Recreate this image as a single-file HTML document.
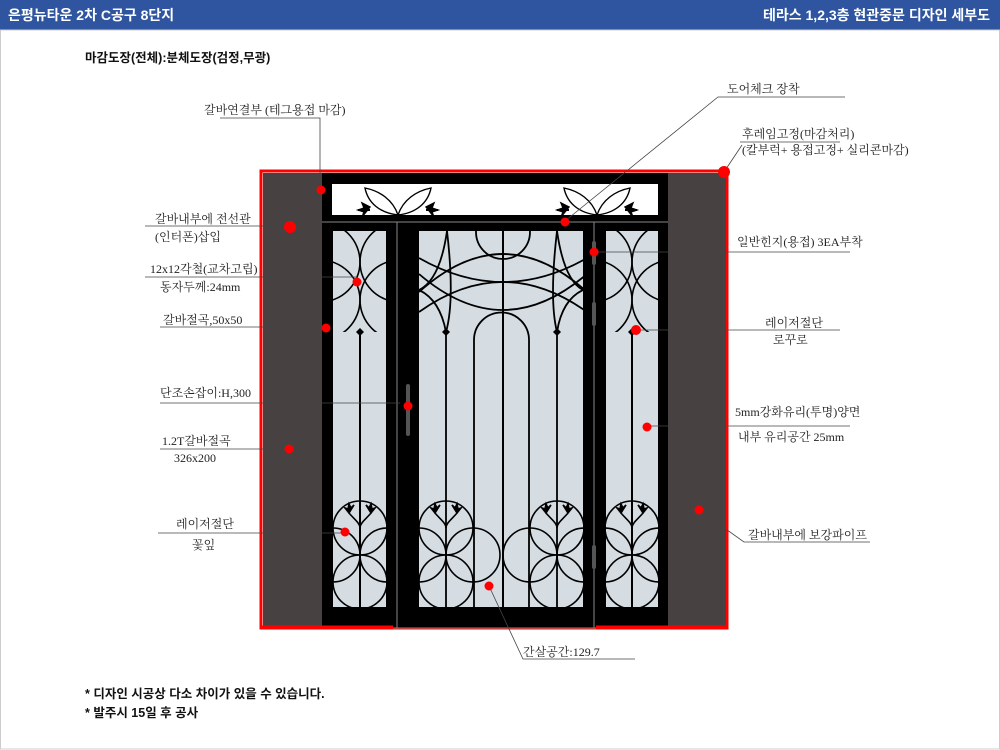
<!DOCTYPE html>
<html><head><meta charset="utf-8"><style>
html,body{margin:0;padding:0;background:#fff;}
svg{display:block;}
.l{font-family:"Liberation Serif","Noto Serif CJK SC",serif;font-size:12px;fill:#222;}
.b{font-family:"Liberation Sans","Noto Sans CJK KR",sans-serif;font-size:12.5px;font-weight:bold;fill:#111;}
.h{font-family:"Liberation Sans","Noto Sans CJK KR",sans-serif;font-size:14px;font-weight:bold;fill:#fff;}
</style></head><body>
<svg width="1000" height="750" viewBox="0 0 1000 750" xmlns="http://www.w3.org/2000/svg">
<defs>
<clipPath id="gl"><rect x="333" y="231" width="53" height="376"/></clipPath>
<clipPath id="gc"><rect x="419" y="231" width="164" height="376"/></clipPath>
<clipPath id="gr"><rect x="606" y="231" width="52" height="376"/></clipPath>
<clipPath id="tl"><rect x="333" y="231" width="53" height="101"/></clipPath>
<clipPath id="tr2"><rect x="606" y="231" width="52" height="101"/></clipPath>
<g id="side" fill="none" stroke="#000" stroke-width="1.6">
<circle cx="320" cy="262" r="40"/><circle cx="400" cy="262" r="40"/>
<circle cx="320" cy="300" r="40"/><circle cx="400" cy="300" r="40"/>
</g>
<g id="flw" fill="none" stroke="#000" stroke-width="1.6">
<circle cx="-27" cy="0" r="27"/><circle cx="27" cy="0" r="27"/>
<circle cx="0" cy="-27" r="27"/><circle cx="0" cy="27" r="27"/>
<path d="M0,-27 C0,-32 -6,-36 -11,-42 M0,-27 C0,-32 6,-36 11,-42"/>
<path d="M-11,-42 l-4,-5 l3,1 l1,-5 l2,4 l3,-3 z M11,-42 l4,-5 l-3,1 l-1,-5 l-2,4 l-3,-3 z" fill="#000"/>
</g>
<g id="tr" fill="none" stroke="#000" stroke-width="1.4">
<path d="M0,30 C-5,15 -18,6 -33,3 C-30,18 -18,28 0,30 Z"/>
<path d="M0,30 C5,15 18,6 33,3 C30,18 18,28 0,30 Z"/>
<path d="M-28,22 l-8,-4 l2,5 l-6,2 l6,2 l-2,5 z M28,22 l8,-4 l-2,5 l6,2 l-6,2 l2,5 z" fill="#000"/>
<path d="M-28,25 L-40,25 M28,25 L40,25" stroke-width="2"/>
</g>
</defs>
<rect x="0" y="0" width="1000" height="30" fill="#2f55a0"/>
<text class="h" x="8" y="20">은평뉴타운 2차 C공구 8단지</text>
<text class="h" x="990" y="20" text-anchor="end">테라스 1,2,3층 현관중문 디자인  세부도</text>
<rect x="0.5" y="30" width="999" height="719" fill="none" stroke="#ccc"/>
<text class="b" x="85" y="62">마감도장(전체):분체도장(검정,무광)</text>

<rect x="261" y="171" width="466" height="457" fill="none" stroke="#f00" stroke-width="3"/>
<rect x="263" y="173" width="60" height="454" fill="#474241"/>
<rect x="668" y="173" width="58" height="454" fill="#474241"/>
<rect x="322" y="173" width="346" height="455" fill="#000"/>
<line x1="261" y1="627" x2="393" y2="627" stroke="#f00" stroke-width="3"/>
<line x1="596" y1="627" x2="727" y2="627" stroke="#f00" stroke-width="3"/>
<line x1="393" y1="628" x2="596" y2="628" stroke="#888" stroke-width="1"/>
<rect x="332" y="184" width="326" height="31" fill="#fff"/>
<use href="#tr" x="398" y="185"/>
<use href="#tr" x="597" y="185"/>
<line x1="322" y1="222" x2="668" y2="222" stroke="#888" stroke-width="1"/>
<line x1="397" y1="222" x2="397" y2="628" stroke="#888" stroke-width="1"/>
<line x1="594" y1="222" x2="594" y2="628" stroke="#888" stroke-width="1"/>
<rect x="333" y="231" width="53" height="376" fill="#d5dde3"/>
<rect x="419" y="231" width="164" height="376" fill="#d5dde3"/>
<rect x="606" y="231" width="52" height="376" fill="#d5dde3"/>

<g clip-path="url(#tl)"><use href="#side"/></g>
<g clip-path="url(#gl)">
<line x1="360" y1="330" x2="360" y2="607" stroke="#000" stroke-width="2"/>
<use href="#flw" x="360" y="555"/>
</g>
<g clip-path="url(#tr2)"><use href="#side" x="272"/></g>
<g clip-path="url(#gr)">
<line x1="632" y1="330" x2="632" y2="607" stroke="#000" stroke-width="2"/>
<use href="#flw" x="632" y="555"/>
</g>
<g clip-path="url(#gc)" fill="none" stroke="#000" stroke-width="1.8">
<circle cx="503" cy="232" r="27"/>
<path d="M419,292 Q503,216 587,292"/>
<path d="M419,274 Q503,346 587,274"/>
<path d="M419,258 Q503,306 587,258"/>
<path d="M419,312 Q503,252 587,312"/>
<path d="M447,231 Q440,280 419,290"/>
<path d="M447,231 Q455,300 446,332"/>
<path d="M419,290 Q440,300 446,332"/>
<path d="M557,231 Q564,280 583,290"/>
<path d="M557,231 Q549,300 557,332"/>
<path d="M583,290 Q562,300 557,332"/>
<line x1="503" y1="231" x2="503" y2="607" stroke-width="2"/>
<line x1="446" y1="332" x2="446" y2="607"/><line x1="557" y1="332" x2="557" y2="607"/>
<path d="M474,607 L474,340 A27,27 0 0 1 529,340 L529,607"/>
<use href="#flw" x="446" y="555"/>
<use href="#flw" x="557" y="555"/>
</g>
<g fill="#000">
<path d="M356,332 l4,-4 l4,4 l-4,4z"/><path d="M628,332 l4,-4 l4,4 l-4,4z"/>
<path d="M442,332 l4,-4 l4,4 l-4,4z"/><path d="M553,332 l4,-4 l4,4 l-4,4z"/>
</g>
<rect x="406" y="384" width="4" height="52" rx="2" fill="#555"/>
<rect x="592" y="241" width="4" height="24" rx="2" fill="#555"/>
<rect x="592" y="302" width="4" height="24" rx="2" fill="#555"/>
<rect x="592" y="545" width="4" height="24" rx="2" fill="#555"/>

<g stroke="#444" stroke-width="0.8" fill="none">
<polyline points="220,118 320,118 320,189"/>
<line x1="145" y1="226" x2="290" y2="226"/>
<line x1="145" y1="277" x2="357" y2="277"/>
<line x1="160" y1="327" x2="326" y2="327"/>
<line x1="160" y1="403" x2="400" y2="403"/>
<line x1="160" y1="449" x2="289" y2="449"/>
<line x1="158" y1="533" x2="345" y2="533"/>
<polyline points="845,97 718,97 565,221"/>
<polyline points="840,142 740,142"/>
<line x1="742" y1="145" x2="724" y2="172"/>
<line x1="594" y1="252" x2="850" y2="252"/>
<line x1="636" y1="330" x2="840" y2="330"/>
<line x1="647" y1="426" x2="850" y2="426"/>
<polyline points="699,510 744,542 870,542"/>
<polyline points="489,586 523,659 635,659"/>
</g>
<g fill="#f00">
<circle cx="321" cy="190" r="4.5"/><circle cx="290" cy="227" r="6"/>
<circle cx="357" cy="282" r="4.5"/><circle cx="326" cy="328" r="4.5"/>
<circle cx="408" cy="406" r="4.5"/><circle cx="289" cy="449" r="4.5"/>
<circle cx="345" cy="532" r="4.5"/><circle cx="565" cy="222" r="4.5"/>
<circle cx="724" cy="172" r="6"/><circle cx="594" cy="252" r="4.5"/>
<circle cx="636" cy="330" r="5"/><circle cx="647" cy="427" r="4.5"/>
<circle cx="699" cy="510" r="4.5"/><circle cx="489" cy="586" r="4.5"/>
</g>
<text class="l" x="204" y="114">갈바연결부 (테그용접 마감)</text>
<text class="l" x="155" y="223">갈바내부에 전선관</text>
<text class="l" x="155" y="241">(인터폰)삽입</text>
<text class="l" x="150" y="273">12x12각철(교차고립)</text>
<text class="l" x="160" y="291">동자두께:24mm</text>
<text class="l" x="163" y="324">갈바절곡,50x50</text>
<text class="l" x="160" y="397">단조손잡이:H,300</text>
<text class="l" x="162" y="445">1.2T갈바절곡</text>
<text class="l" x="174" y="462">326x200</text>
<text class="l" x="176" y="528">레이저절단</text>
<text class="l" x="192" y="549">꽃잎</text>
<text class="l" x="727" y="93">도어체크 장착</text>
<text class="l" x="742" y="138">후레임고정(마감처리)</text>
<text class="l" x="742" y="154">(칼부럭+ 용접고정+ 실리콘마감)</text>
<text class="l" x="737" y="246">일반힌지(용접) 3EA부착</text>
<text class="l" x="765" y="327">레이저절단</text>
<text class="l" x="773" y="344">로꾸로</text>
<text class="l" x="735" y="416">5mm강화유리(투명)양면</text>
<text class="l" x="738" y="441">내부 유리공간 25mm</text>
<text class="l" x="748" y="539">갈바내부에 보강파이프</text>
<text class="l" x="523" y="656">간살공간:129.7</text>
<text class="b" x="85" y="698">* 디자인 시공상 다소 차이가 있을 수 있습니다.</text>
<text class="b" x="85" y="717">* 발주시 15일 후 공사</text>
</svg>
</body></html>
